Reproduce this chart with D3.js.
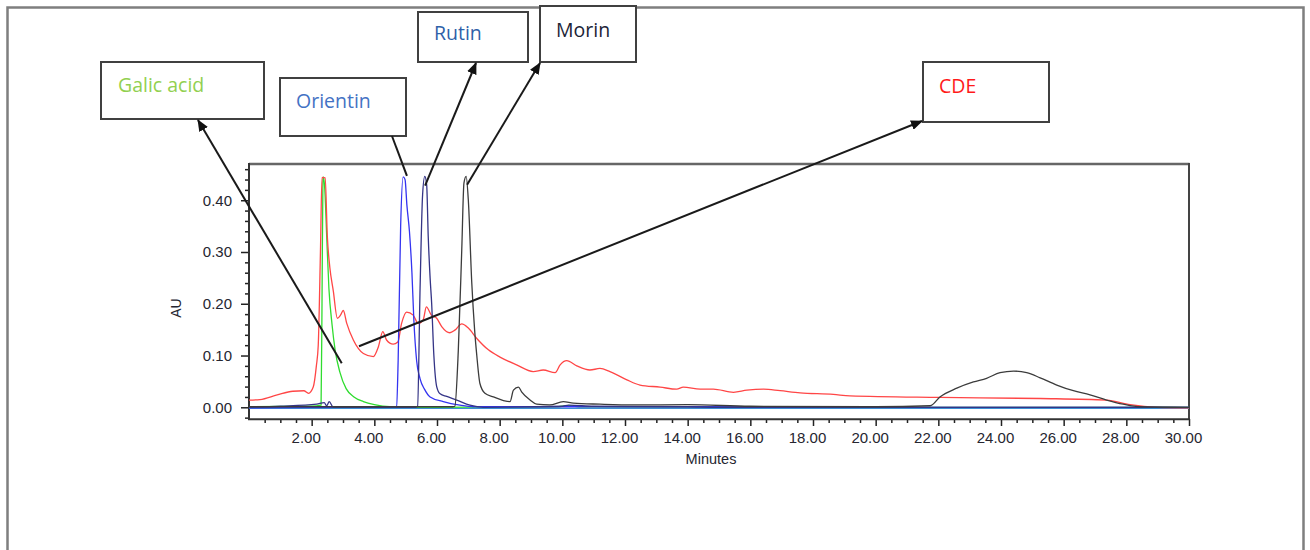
<!DOCTYPE html>
<html>
<head>
<meta charset="utf-8">
<script src="https://cdn.jsdelivr.net/npm/d3@7"></script>
<style>
  html, body { margin: 0; padding: 0; background: #fff; }
  svg { display: block; }
  .tick text { font-family: "Liberation Sans", Arial, sans-serif; font-size: 15px; fill: #262630; }
  .callout { font-family: "Open Sans", "Noto Sans", sans-serif; font-size: 19.5px; }
</style>
</head>
<body>
<svg id="chart" width="1310" height="550"></svg>
<script>
// HPLC chromatograms: retention time (min) vs absorbance (AU)
const galicAcid = [
  [0, 0.001], [2.0, 0.002], [2.3, 0.004], [2.33, 0.2], [2.36, 0.44], [2.38, 0.445],
  [2.42, 0.42], [2.48, 0.33], [2.55, 0.23], [2.65, 0.16], [2.75, 0.11], [2.9, 0.068],
  [3.1, 0.036], [3.35, 0.02], [3.65, 0.011], [4.0, 0.005], [4.5, 0.001], [6.0, 0.0],
  [9.8, 0.001], [10.2, 0.003], [10.6, 0.001], [20, 0.0], [30, 0.0]
];

const cde = [
  [0, 0.014], [0.35, 0.015], [0.9, 0.024], [1.4, 0.031], [1.75, 0.032], [1.9, 0.027],
  [2.05, 0.039], [2.15, 0.08], [2.21, 0.12], [2.28, 0.3], [2.33, 0.444], [2.43, 0.443],
  [2.5, 0.33], [2.58, 0.27], [2.69, 0.225], [2.82, 0.172], [2.92, 0.178], [3.01, 0.187],
  [3.12, 0.162], [3.33, 0.13], [3.65, 0.104], [3.97, 0.098], [4.13, 0.117], [4.27, 0.146],
  [4.39, 0.13], [4.6, 0.122], [4.75, 0.126], [4.87, 0.162], [5.03, 0.184], [5.24, 0.178],
  [5.4, 0.162], [5.56, 0.169], [5.66, 0.194], [5.82, 0.178], [5.99, 0.172], [6.15, 0.156],
  [6.41, 0.144], [6.57, 0.149], [6.79, 0.161], [7.0, 0.153], [7.27, 0.133], [7.64, 0.111],
  [8.01, 0.097], [8.54, 0.082], [9.07, 0.069], [9.39, 0.072], [9.77, 0.067], [9.93, 0.082],
  [10.14, 0.09], [10.46, 0.08], [10.88, 0.072], [11.2, 0.075], [11.52, 0.069], [12.06, 0.053],
  [12.48, 0.043], [13.12, 0.039], [13.65, 0.035], [13.86, 0.039], [14.4, 0.035], [14.82, 0.035],
  [15.46, 0.029], [15.89, 0.033], [16.42, 0.035], [16.95, 0.032], [17.59, 0.028], [18.65, 0.025],
  [19.18, 0.022], [22.05, 0.019], [25.25, 0.017], [27.37, 0.014], [28.12, 0.005], [28.97, 0.0],
  [30, -0.001]
];

const orientin = [
  [0, -0.001], [2.0, 0.0], [4.6, 0.0], [4.71, 0.002], [4.76, 0.09], [4.84, 0.35],
  [4.92, 0.445], [4.98, 0.44], [5.04, 0.39], [5.12, 0.34], [5.2, 0.26], [5.26, 0.17],
  [5.35, 0.09], [5.46, 0.055], [5.6, 0.035], [5.78, 0.02], [6.2, 0.011], [6.73, 0.004],
  [7.16, 0.001], [10, 0.001], [14, 0.001], [20, 0.0], [30, 0.0]
];

const rutin = [
  [0, 0.0], [1.0, 0.002], [2.16, 0.006], [2.4, 0.009], [2.48, 0.003], [2.56, 0.011],
  [2.69, 0.0], [3.5, 0.0], [5.3, 0.0], [5.38, 0.002], [5.46, 0.23], [5.54, 0.41],
  [5.61, 0.446], [5.67, 0.43], [5.72, 0.33], [5.78, 0.25], [5.83, 0.2], [5.9, 0.1],
  [5.99, 0.04], [6.1, 0.026], [6.31, 0.021], [6.63, 0.014], [7.05, 0.004], [7.48, 0.0],
  [10.0, 0.002], [10.2, 0.004], [11.0, 0.002], [14, 0.001], [15, 0.0], [30, 0.0]
];

const morin = [
  [0, 0.001], [6.5, 0.001], [6.57, 0.002], [6.68, 0.11], [6.79, 0.304], [6.86, 0.433],
  [6.93, 0.446], [7.0, 0.40], [7.11, 0.24], [7.2, 0.15], [7.27, 0.1], [7.37, 0.046],
  [7.53, 0.027], [7.8, 0.02], [8.12, 0.013], [8.33, 0.011], [8.44, 0.033], [8.6, 0.039],
  [8.7, 0.03], [8.97, 0.014], [9.18, 0.006], [9.6, 0.0045], [10.03, 0.011], [10.35, 0.008],
  [11.2, 0.006], [12.27, 0.0045], [14, 0.005], [16, 0.002], [20, 0.001], [21.74, 0.003],
  [22.05, 0.02], [22.59, 0.037], [23.12, 0.049], [23.54, 0.056], [23.97, 0.067], [24.4, 0.070],
  [24.82, 0.067], [25.25, 0.057], [25.78, 0.043], [26.31, 0.032], [26.84, 0.024], [27.37, 0.014],
  [27.9, 0.006], [28.44, 0.001], [30, 0.0]
];

const blankRun = [[0, -0.002], [30, -0.002]];

const xMajorTicks = [2, 4, 6, 8, 10, 12, 14, 16, 18, 20, 22, 24, 26, 28, 30];
const yMajorTicks = [0, 0.1, 0.2, 0.3, 0.4];

// Callout names and the point each one points at (time, AU)
const calloutNames = ["Galic acid", "Orientin", "Rutin", "Morin", "CDE"];
const calloutTargets = [[2.96, 0.085], [5.04, 0.447], [5.62, 0.428], [6.96, 0.43], [3.51, 0.118]];

const svg = d3.select("#chart");

// page frame
svg.append("rect").attr("x", 0).attr("y", 0).attr("width", 1310).attr("height", 550).attr("fill", "#fff");
svg.append("path")
  .attr("d", "M7.5,560 V7.5 H1303.5 V560")
  .attr("fill", "none").attr("stroke", "#7f7f7f").attr("stroke-width", 2.5);

const x = d3.scaleLinear().domain([0, 30]).range([249, 1189]);
const y = d3.scaleLinear().domain([-0.0232, 0.47]).range([419.3, 164]);

const plot = svg.append("g");

// minor ticks
const xMinor = d3.range(0.5, 30, 0.5).filter(t => Math.abs(t % 2) > 1e-9);
plot.append("g").attr("transform", "translate(0,419)")
  .call(d3.axisBottom(x).tickValues(xMinor).tickSize(4).tickFormat(""))
  .call(g => g.select(".domain").remove())
  .call(g => g.selectAll("line").attr("stroke", "#222").attr("stroke-width", 1.5));

const yMinor = d3.range(-0.02, 0.47, 0.02).filter(v => Math.abs(Math.round(v * 100) % 10) > 0);
plot.append("g").attr("transform", "translate(249,0)")
  .call(d3.axisLeft(y).tickValues(yMinor).tickSize(4).tickFormat(""))
  .call(g => g.select(".domain").remove())
  .call(g => g.selectAll("line").attr("stroke", "#222").attr("stroke-width", 1.5));

// major axes
plot.append("g").attr("transform", "translate(0,419)")
  .call(d3.axisBottom(x).tickValues(xMajorTicks).tickSize(7).tickPadding(6).tickFormat(d3.format(".2f")))
  .call(g => g.select(".domain").remove())
  .call(g => g.selectAll("line").attr("stroke", "#222").attr("stroke-width", 1.5))
  .call(g => g.selectAll("text").attr("dx", -6));

plot.append("g").attr("transform", "translate(249,0)")
  .call(d3.axisLeft(y).tickValues(yMajorTicks).tickSize(8).tickPadding(9).tickFormat(d3.format(".2f")))
  .call(g => g.select(".domain").remove())
  .call(g => g.selectAll("line").attr("stroke", "#222").attr("stroke-width", 1.5));

// plot frame
plot.append("line").attr("x1", 249).attr("x2", 1189.5).attr("y1", 164).attr("y2", 164)
  .attr("stroke", "#666").attr("stroke-width", 2.5);
plot.append("line").attr("x1", 1189).attr("x2", 1189).attr("y1", 163).attr("y2", 420)
  .attr("stroke", "#444").attr("stroke-width", 2);
plot.append("line").attr("x1", 249).attr("x2", 249).attr("y1", 163).attr("y2", 420)
  .attr("stroke", "#333").attr("stroke-width", 2);
plot.append("line").attr("x1", 248).attr("x2", 1190).attr("y1", 419.3).attr("y2", 419.3)
  .attr("stroke", "#333").attr("stroke-width", 2);

// axis titles
svg.append("text").attr("transform", "translate(181,308) rotate(-90)")
  .attr("text-anchor", "middle")
  .attr("font-family", "Liberation Sans, Arial, sans-serif").attr("font-size", 14)
  .attr("fill", "#262630").text("AU");
svg.append("text").attr("x", 711).attr("y", 464)
  .attr("text-anchor", "middle")
  .attr("font-family", "Liberation Sans, Arial, sans-serif").attr("font-size", 14.5)
  .attr("fill", "#262630").text("Minutes");

// traces
const line = d3.line().x(d => x(d[0])).y(d => y(d[1])).curve(d3.curveMonotoneX);
const traces = [
  { data: blankRun, color: "#3b8fd6" },
  { data: galicAcid, color: "#2fdc2f" },
  { data: cde, color: "#ff4646" },
  { data: orientin, color: "#3434f0" },
  { data: rutin, color: "#343486" },
  { data: morin, color: "#3c3c3c" }
];
plot.append("g").selectAll("path").data(traces).join("path")
  .attr("d", d => line(d.data))
  .attr("fill", "none")
  .attr("stroke", d => d.color)
  .attr("stroke-width", 1.3)
  .attr("stroke-linejoin", "round");

// callout boxes
const boxes = [
  { name: calloutNames[0], x0: 101, y0: 62, x1: 264, y1: 119, tx: 118, ty: 92, color: "#92d050" },
  { name: calloutNames[1], x0: 280, y0: 78, x1: 406, y1: 136, tx: 296, ty: 108, color: "#4472c4" },
  { name: calloutNames[2], x0: 418, y0: 12, x1: 528, y1: 62, tx: 434, ty: 40, color: "#2f5fa8" },
  { name: calloutNames[3], x0: 540, y0: 6, x1: 636, y1: 62, tx: 556, ty: 37, color: "#1c2437" },
  { name: calloutNames[4], x0: 923, y0: 62, x1: 1049, y1: 122, tx: 939, ty: 93, color: "#ff1a1a" }
];
const cg = svg.append("g");
cg.selectAll("rect").data(boxes).join("rect")
  .attr("x", d => d.x0).attr("y", d => d.y0)
  .attr("width", d => d.x1 - d.x0).attr("height", d => d.y1 - d.y0)
  .attr("fill", "#fff").attr("stroke", "#404040").attr("stroke-width", 2);
cg.selectAll("text").data(boxes).join("text")
  .attr("class", "callout")
  .attr("x", d => d.tx).attr("y", d => d.ty)
  .attr("fill", d => d.color).text(d => d.name);

// arrows linking peaks to callouts
svg.append("defs").append("marker")
  .attr("id", "head").attr("viewBox", "0 0 12 10")
  .attr("refX", 11).attr("refY", 5)
  .attr("markerWidth", 12).attr("markerHeight", 10)
  .attr("markerUnits", "userSpaceOnUse")
  .attr("orient", "auto")
  .append("path").attr("d", "M0,0 L12,5 L0,10 Z").attr("fill", "#111");

const links = [
  { from: calloutTargets[0], to: [198, 120], head: true },
  { from: calloutTargets[1], to: [392, 136], head: false },
  { from: calloutTargets[2], to: [476, 63], head: true },
  { from: calloutTargets[3], to: [540, 63], head: true },
  { from: calloutTargets[4], to: [922, 121], head: true }
];
svg.append("g").selectAll("line").data(links).join("line")
  .attr("x1", d => x(d.from[0])).attr("y1", d => y(d.from[1]))
  .attr("x2", d => d.to[0]).attr("y2", d => d.to[1])
  .attr("stroke", "#1a1a1a").attr("stroke-width", 2)
  .attr("marker-end", d => d.head ? "url(#head)" : null);
</script>
</body>
</html>
